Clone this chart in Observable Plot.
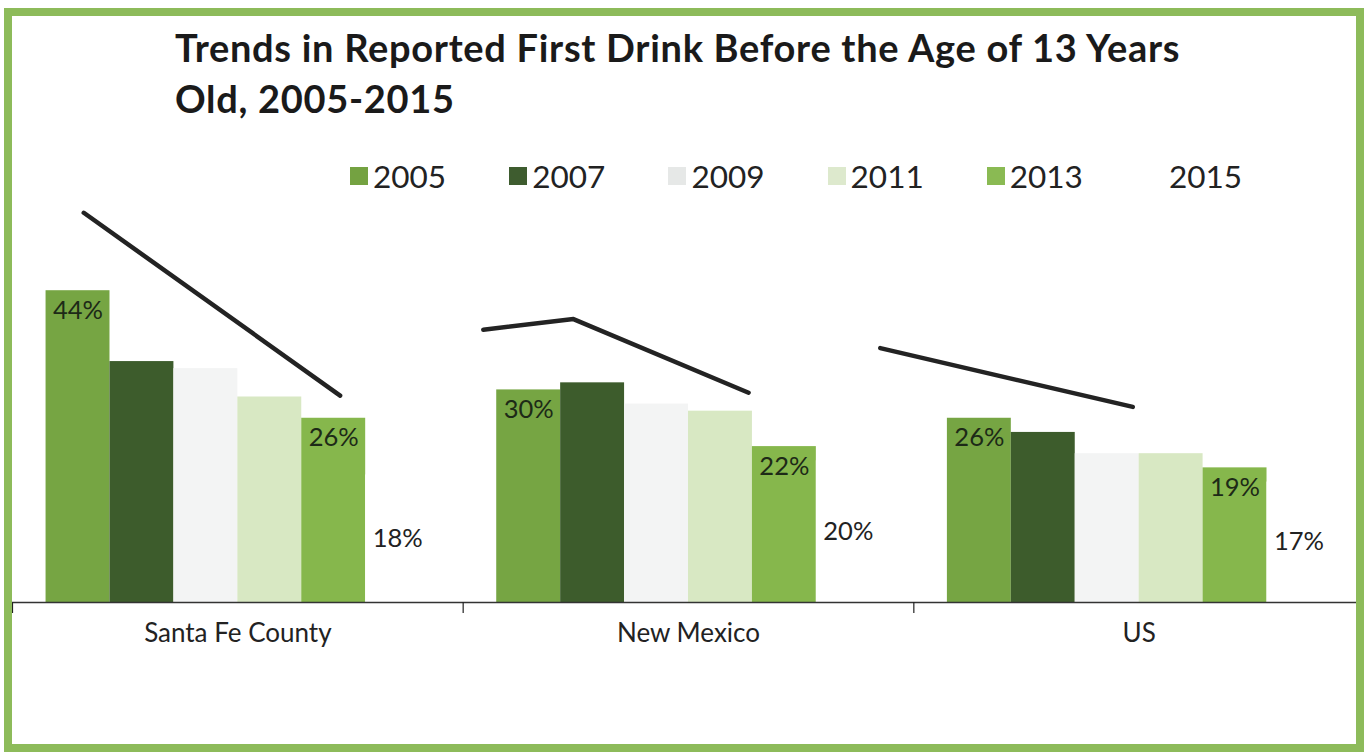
<!DOCTYPE html>
<html><head><meta charset="utf-8">
<script src="https://cdn.jsdelivr.net/npm/d3@7"></script>
<script src="https://cdn.jsdelivr.net/npm/@observablehq/plot@0.6"></script>
<style>
body{margin:0;background:#fff;width:1364px;height:752px;overflow:hidden;position:relative;font-family:Lato,"Open Sans",sans-serif;}
#frame{position:absolute;left:4px;top:8px;width:1360px;height:744px;box-sizing:border-box;border:8px solid #8dbb5a;pointer-events:none;}
#title{position:absolute;left:175px;top:22px;font-weight:700;font-size:38px;letter-spacing:0.7px;line-height:51px;color:#1a1a1a;white-space:nowrap;}
#legend{position:absolute;top:158px;left:0;height:36px;}
.item{position:absolute;top:0;display:flex;align-items:center;font-size:31.5px;line-height:36px;color:#222;}
.sw{width:18px;height:18px;margin-right:5px;}
#chart{position:absolute;left:0;top:190px;}
</style></head>
<body>
<div id="title">Trends in Reported First Drink Before the Age of 13 Years<br>Old, 2005-2015</div>
<div id="legend"></div>
<div id="chart"></div>
<div id="frame"></div>
<script>
const groups = ["Santa Fe County", "New Mexico", "US"];
const years = ["2005", "2007", "2009", "2011", "2013", "2015"];
const barColors = ["#76a543", "#3d5c2c", "#f3f4f4", "#d8e8c3", "#86b74c", "#ffffff"];
const legendColors = ["#74a241", "#3e5c2f", "#e6e8e7", "#dde9cd", "#8aba53", "#ffffff"];
const santaFe = [44, 34, 33, 29, 26, 18];
const newMexico = [30, 31, 28, 27, 22, 20];
const us = [26, 24, 21, 21, 19, 17];
const endLabelYears = ["2005", "2013"];
const centerLabelYears = ["2015"];
// overlay trend strokes: [position in bar slots from group's first bar, percent]
const trendSantaFe = [[0.59, 55.0], [4.6, 29.2]];
const trendNewMexico = [[-0.21, 38.5], [1.2, 40.0], [3.94, 29.6]];
const trendUS = [[-1.05, 35.9], [2.9, 27.6]];

const seriesByGroup = [santaFe, newMexico, us];
const trendsByGroup = [trendSantaFe, trendNewMexico, trendUS];
const GAP = 1.05;               // gap between groups, in bar widths
const GW = years.length + GAP;  // group width in bar widths
const slot = (g, p) => g * GW + GAP / 2 + p;

const data = [];
seriesByGroup.forEach((vals, g) => vals.forEach((v, i) => data.push({group: groups[g], g, i, year: years[i], value: v})));
const trend = [];
trendsByGroup.forEach((pts, g) => pts.forEach(([p, v]) => trend.push({group: groups[g], g, p, value: v})));

// legend
const leg = document.getElementById("legend");
years.forEach((y, i) => {
  const it = document.createElement("div");
  it.className = "item";
  it.style.left = (350 + i * 159.2) + "px";
  it.innerHTML = `<span class="sw" style="background:${legendColors[i]}"></span><span>${y}</span>`;
  leg.appendChild(it);
});

const boundaries = groups.map((_, g) => g * GW);
const centers = groups.map((_, g) => g * GW + GW / 2);

const chart = Plot.plot({
  width: 1364,
  height: 563,
  marginLeft: 12,
  marginRight: 0,
  marginTop: 1,
  marginBottom: 151,
  style: {fontFamily: "Lato, 'Open Sans', sans-serif", color: "#222", background: "transparent"},
  x: {domain: [0, groups.length * GW]},
  y: {domain: [0, 58], axis: null},
  color: {domain: years, range: barColors},
  marks: [
    Plot.rectY(data, {x1: d => slot(d.g, d.i), x2: d => slot(d.g, d.i + 1), y: "value", fill: "year"}),
    Plot.ruleY([0], {stroke: "#333", strokeWidth: 1.5}),
    Plot.axisX({ticks: boundaries, tickSize: 11, tickFormat: () => "", stroke: "#222", strokeWidth: 1.2}),
    Plot.axisX({ticks: centers, tickSize: 0, tickPadding: 21, fontSize: 26, fill: "#222",
      tickFormat: d => groups[Math.round((d - GW / 2) / GW)]}),
    Plot.line(trend, {x: d => slot(d.g, d.p), y: "value", z: "group", stroke: "#232323", strokeWidth: 4.5}),
    Plot.text(data.filter(d => endLabelYears.includes(d.year)), {
      x: d => slot(d.g, d.i + 0.5), y: "value", dy: 20, text: d => d.value + "%", fontSize: 25.5, fill: "#1d2a17"}),
    Plot.text(data.filter(d => centerLabelYears.includes(d.year)), {
      x: d => slot(d.g, d.i + 0.5), y: d => d.value / 2, text: d => d.value + "%", fontSize: 25.5, fill: "#222"})
  ]
});
document.getElementById("chart").appendChild(chart);
</script>
</body></html>
